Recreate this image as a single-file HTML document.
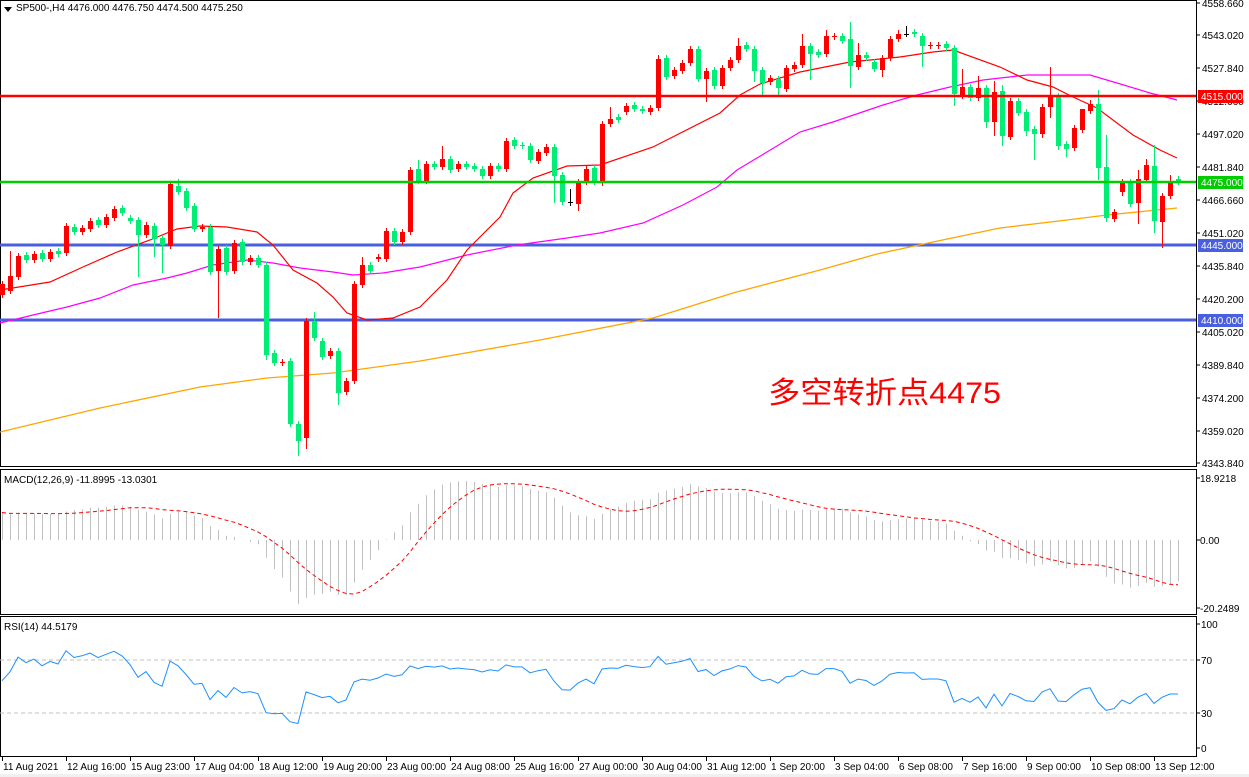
<!DOCTYPE html>
<html><head><meta charset="utf-8">
<style>
html,body{margin:0;padding:0;background:#fff;width:1249px;height:777px;overflow:hidden}
svg{display:block;font-family:"Liberation Sans","Noto Sans CJK SC",sans-serif}
</style></head><body>
<svg id="s" width="1249" height="777" viewBox="0 0 1249 777" xmlns="http://www.w3.org/2000/svg">
<rect width="1249" height="777" fill="#fff"/>
<g id="main"></g>
<text x="768" y="403" font-size="30" textLength="233" lengthAdjust="spacingAndGlyphs" fill="#ff0000" font-family="'Liberation Sans','Noto Sans CJK SC',sans-serif">多空转折点4475</text>
</svg>
<script>
var C=[
[284,295,'r'],[276,291,'r'],[256,277,'r'],[255,260,'g'],[254,260,'r'],[253,259,'g'],[252,259,'r'],[251,254,'g'],[226,253,'r'],[227,232,'g'],
[228,232,'r'],[221,229,'r'],[220,225,'g'],[217,225,'r'],[209,218,'r'],[208,213,'g'],[218,221,'g'],[220,235,'g'],[225,235,'r'],[226,239,'g'],
[238,245,'g'],[184,246,'r'],[186,192,'g'],[191,208,'g'],[206,229,'g'],[227,229,'r'],[227,272,'g'],[249,271,'r'],[248,272,'g'],[243,271,'r'],
[242,262,'g'],[258,262,'r'],[258,265,'g'],[265,355,'g'],[353,363,'g'],[362,363,'r'],[361,424,'g'],[424,441,'g'],[321,438,'r'],[321,338,'g'],
[341,357,'g'],[351,356,'r'],[351,393,'g'],[381,392,'r'],[284,381,'r'],[265,285,'r'],[265,271,'g'],[257,259,'r'],[231,259,'r'],[231,242,'g'],
[232,242,'r'],[170,232,'r'],[169,181,'g'],[164,181,'r'],[164,167,'g'],[159,167,'r'],[159,170,'g'],[164,169,'r'],[164,167,'g'],[166,169,'g'],
[169,176,'g'],[166,176,'r'],[166,169,'g'],[141,169,'r'],[140,146,'g'],[145,146,'g'],[146,160,'g'],[152,161,'r'],[147,153,'r'],[147,176,'g'],
[175,202,'g'],[202,203,'k'],[182,204,'r'],[169,182,'r'],[168,182,'g'],[124,182,'r'],[119,124,'r'],[117,120,'g'],[106,112,'r'],[105,109,'g'],
[109,111,'g'],[108,112,'r'],[59,108,'r'],[58,77,'g'],[70,76,'r'],[63,71,'r'],[49,63,'r'],[49,79,'g'],[71,79,'r'],[70,86,'g'],
[68,86,'r'],[60,68,'r'],[46,60,'r'],[45,49,'g'],[49,71,'g'],[70,83,'g'],[78,82,'r'],[79,88,'g'],[68,89,'r'],[65,69,'r'],
[46,65,'r'],[46,54,'g'],[52,55,'g'],[36,54,'r'],[36,37,'r'],[36,41,'g'],[39,66,'g'],[55,67,'r'],[55,58,'g'],[62,69,'g'],
[58,70,'r'],[39,58,'r'],[34,39,'r'],[34,35,'k'],[32,34,'g'],[36,46,'g'],[45,46,'r'],[45,46,'r'],[44,48,'g'],[48,94,'g'],
[87,96,'r'],[87,98,'g'],[88,98,'r'],[88,122,'g'],[92,122,'r'],[91,136,'g'],[101,137,'r'],[101,113,'g'],[112,131,'g'],[129,134,'g'],
[107,134,'r'],[96,107,'r'],[96,146,'g'],[144,149,'g'],[128,148,'r'],[109,130,'r'],[104,111,'r'],[104,168,'g'],[167,218,'g'],[212,219,'r'],
[182,192,'r'],[182,204,'g'],[179,203,'r'],[165,180,'r'],[166,221,'g'],[196,222,'r'],[182,196,'r'],[179,182,'g']];
var W={2:[251],18:[,277],20:[,257],21:[,273],22:[182],23:[179],28:[,318],34:[,360],38:[,456],39:[,449],40:[312],43:[,405],46:[257],53:[160],56:[146],70:[,203],71:[,205],72:[189,206],73:[,211],76:[,186],77:[107],83:[55],89:[,102],93:[38],95:[,82],96:[,95],98:[,95],100:[62],101:[34],102:[,80],104:[30],107:[22,88],108:[43],111:[,77],113:[30],114:[26,37],116:[,67],120:[,106],121:[69],123:[76],124:[,128],125:[81,136],126:[85,146],127:[,140],129:[,136],130:[,160],131:[,138],132:[67,118],133:[,150],134:[,157],136:[126],137:[100],138:[90,180],139:[135,222],141:[,196],143:[170,224],144:[159],145:[145,233],146:[,248],147:[175]};
var o=[];
function P(pts,col,w){return '<polyline fill="none" stroke="'+col+'" stroke-width="'+(w||1)+'" points="'+pts.map(function(p){return p.join(',')}).join(' ')+'"/>';}
o.push('<rect x="0.5" y="0.5" width="1196" height="466" fill="none" stroke="#000"/>');
o.push('<rect x="0.5" y="469.5" width="1196" height="145" fill="none" stroke="#000"/>');
o.push('<rect x="0.5" y="616.5" width="1196" height="140" fill="none" stroke="#000"/>');
o.push(P([[0,245],[1196,245]],'#4a5fe0',3));
o.push(P([[0,320],[1196,320]],'#4a5fe0',3));
o.push(P([[0,432],[100,408],[200,387],[267,378],[333,373],[420,361],[540,340],[653,318],[733,293],[820,270],[877,254],[933,242],[1000,228],[1067,220],[1107,215],[1177,208]],'#ffa500',1.3));
o.push(P([[0,323],[33,315],[67,307],[100,298],[133,285],[167,278],[187,273],[213,265],[247,260],[273,263],[300,268],[333,272],[353,275],[383,273],[420,267],[467,255],[517,245],[567,238],[600,233],[643,223],[683,205],[717,187],[737,170],[767,152],[800,132],[833,122],[883,105],[917,95],[950,87],[983,80],[1027,75],[1090,75],[1117,83],[1150,93],[1177,100]],'#ff00ff',1.2));
o.push(P([[0,290],[50,282],[83,267],[117,252],[150,240],[177,229],[200,226],[227,227],[257,232],[273,245],[293,270],[317,283],[333,297],[347,313],[367,320],[393,318],[420,307],[447,280],[467,250],[500,217],[513,193],[533,178],[567,166],[600,165],[653,147],[720,113],[740,95],[760,84],[800,72],[850,62],[900,57],[933,52],[953,50],[1000,67],[1027,80],[1053,87],[1073,97],[1097,108],[1133,135],[1160,150],[1177,158]],'#ff0000',1.2));
var cl=[];
C.forEach(function(c,i){var x=2+8*i,t=c[0],b=c[1],col=c[2]=='r'?'#ff0000':c[2]=='g'?'#00ee76':'#000';
var w=W[i+1]||[];var hi=w[0]!==undefined?w[0]:t-3,lo=w[1]!==undefined?w[1]:b+3;
o.push('<line x1="'+(x+0.5)+'" y1="'+hi+'" x2="'+(x+0.5)+'" y2="'+lo+'" stroke="'+col+'"/>');
o.push('<rect x="'+(x-2)+'" y="'+t+'" width="5" height="'+Math.max(1,b-t)+'" fill="'+col+'"/>');
cl.push(4515-(((c[2]=='r')?t:b)-96)/2.133);});
o.push(P([[0,96],[1196,96]],'#ff0000',2.5));
o.push(P([[0,182],[1196,182]],'#00cc00',2.5));
var ty=[[4558.660,3],[4543.020,35],[4527.840,68],[4512.660,101],[4497.020,134],[4481.840,167],[4466.660,200],[4451.020,233],[4435.840,266],[4420.200,299],[4405.020,332],[4389.840,365],[4374.200,398],[4359.020,431],[4343.840,463]];
ty.forEach(function(t){o.push('<line x1="1196" x2="1200" y1="'+t[1]+'" y2="'+t[1]+'" stroke="#000"/><text x="1202" y="'+(t[1]+4)+'" font-size="10" fill="#000">'+t[0].toFixed(3)+'</text>');});
[[4515,96,'#ff0000'],[4475,182,'#00cc00'],[4445,245,'#4a5fe0'],[4410,320,'#4a5fe0']].forEach(function(l){o.push('<rect x="1198" y="'+(l[1]-6)+'" width="45" height="13" fill="'+l[2]+'"/><text x="1201" y="'+(l[1]+4)+'" font-size="10" fill="#fff">'+l[0].toFixed(3)+'</text>');});
o.push('<path d="M4 7 L12 7 L8 12 Z" fill="#000"/><text x="16" y="11" font-size="10" fill="#000">SP500-,H4  4476.000 4476.750 4474.500 4475.250</text>');
var e12=cl[0]+3.5,e26=cl[0]-5.5,m=[];
cl.forEach(function(c){e12+= (c-e12)*2/13;e26+=(c-e26)*2/27;m.push(e12-e26);});
var sig=[];m.forEach(function(v,i){var s=0,n=0;for(var k=Math.max(0,i-8);k<=i;k++){s+=m[k];n++;}sig.push(s/n);});
function my(v){return 540-v*3.42;}
m.forEach(function(v,i){var x=2+8*i+0.5;o.push('<line x1="'+x+'" x2="'+x+'" y1="540" y2="'+my(v).toFixed(1)+'" stroke="#c0c0c0"/>');});
o.push('<polyline fill="none" stroke="#ff0000" stroke-dasharray="4,3" points="'+sig.map(function(v,i){return (2+8*i)+','+my(v).toFixed(1)}).join(' ')+'"/>');
o.push('<text x="4" y="483" font-size="10">MACD(12,26,9) -11.8995 -13.0301</text>');
[[ '18.9218',478],['0.00',540],['-20.2489',608]].forEach(function(t){o.push('<line x1="1196" x2="1200" y1="'+t[1]+'" y2="'+t[1]+'" stroke="#000"/><text x="1200" y="'+(t[1]+4)+'" font-size="10">'+t[0]+'</text>');});
var ag=0.9,al=0.75,r=[];
cl.forEach(function(c,i){if(i>0){var d=c-cl[i-1];ag=(ag*13+Math.max(d,0))/14;al=(al*13+Math.max(-d,0))/14;}r.push(100-100/(1+ag/al));});
function ry(v){return 753-v*1.325;}
o.push('<line x1="0" x2="1196" y1="660" y2="660" stroke="#c0c0c0" stroke-dasharray="4,3"/><line x1="0" x2="1196" y1="713" y2="713" stroke="#c0c0c0" stroke-dasharray="4,3"/>');
o.push('<polyline fill="none" stroke="#1e90ff" points="'+r.map(function(v,i){return (2+8*i)+','+ry(v).toFixed(1)}).join(' ')+'"/>');
o.push('<text x="4" y="630" font-size="10">RSI(14) 44.5179</text>');
[['100',624],['70',660],['30',713],['0',748]].forEach(function(t){o.push('<line x1="1196" x2="1200" y1="'+t[1]+'" y2="'+t[1]+'" stroke="#000"/><text x="1201" y="'+(t[1]+4)+'" font-size="10">'+t[0]+'</text>');});
var tl=['11 Aug 2021','12 Aug 16:00','15 Aug 23:00','17 Aug 04:00','18 Aug 12:00','19 Aug 20:00','23 Aug 00:00','24 Aug 08:00','25 Aug 16:00','27 Aug 00:00','30 Aug 04:00','31 Aug 12:00','1 Sep 20:00','3 Sep 04:00','6 Sep 08:00','7 Sep 16:00','9 Sep 00:00','10 Sep 08:00','13 Sep 12:00'];
tl.forEach(function(t,i){var x=2+64*i;o.push('<line x1="'+(x+0.5)+'" x2="'+(x+0.5)+'" y1="757" y2="761" stroke="#000"/><text x="'+(x+1)+'" y="770" font-size="10">'+t+'</text>');});
o.push('<rect x="0" y="774" width="1249" height="3" fill="#f0f0f0"/>');
document.getElementById('main').innerHTML=o.join('');
</script>
</body></html>
